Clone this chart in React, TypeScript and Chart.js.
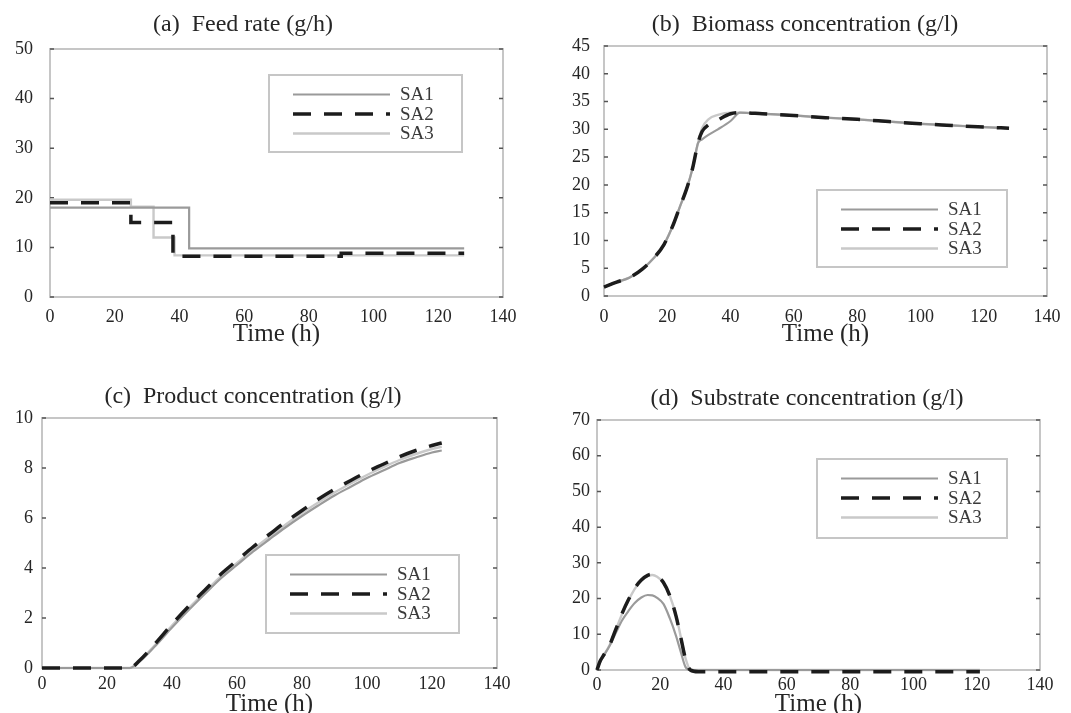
import React, { useEffect, useRef } from 'react';
import { Chart, registerables } from 'chart.js';

Chart.register(...registerables);

// ---------- data ----------
const seriesNames = ['SA1', 'SA2', 'SA3'];

// (a) Feed rate (g/h)
const feedTimeSA1 = [0, 43, 43, 128];
const feedSA1 = [18, 18, 9.8, 9.8];
const feedTimeSA2 = [0, 25, 25, 38, 38, 90, 90, 128];
const feedSA2 = [19, 19, 15, 15, 8.2, 8.2, 8.8, 8.8];
const feedTimeSA3 = [0, 25, 25, 32, 32, 38.5, 38.5, 128];
const feedSA3 = [19.6, 19.6, 18.2, 18.2, 12, 12, 8.4, 8.4];

// (b) Biomass concentration (g/l)
const biomassTime = [0, 4, 8, 12, 16, 19, 22, 24, 26, 28, 29.7, 31, 33, 36, 40, 43, 50, 60, 70, 80, 90, 100, 110, 120, 128];
const biomassSA1 = [1.6, 2.5, 3.3, 4.8, 7.0, 9.3, 13.0, 16.1, 19.1, 23.0, 27.5, 28.2, 29.0, 30.0, 31.5, 33.0, 32.8, 32.5, 32.1, 31.8, 31.4, 31.0, 30.7, 30.4, 30.2];
const biomassSA2 = [1.6, 2.5, 3.3, 4.8, 7.0, 9.3, 13.0, 16.1, 19.1, 23.0, 27.5, 29.6, 30.8, 31.7, 32.8, 33.0, 32.8, 32.5, 32.1, 31.8, 31.4, 31.0, 30.7, 30.4, 30.2];
const biomassSA3 = [1.6, 2.5, 3.3, 4.8, 7.0, 9.3, 13.0, 16.1, 19.1, 23.0, 27.5, 30.2, 31.8, 32.6, 33.0, 33.0, 32.8, 32.5, 32.1, 31.8, 31.4, 31.0, 30.7, 30.4, 30.2];

// (c) Product concentration (g/l)
const productTime = [0, 10, 20, 27, 30, 35, 40, 45, 50, 55, 60, 65, 70, 75, 80, 85, 90, 95, 100, 105, 110, 115, 120, 123];
const productSA1 = [0, 0, 0, 0, 0.25, 0.9, 1.62, 2.3, 2.95, 3.58, 4.12, 4.66, 5.15, 5.63, 6.08, 6.5, 6.9, 7.25, 7.6, 7.9, 8.2, 8.42, 8.62, 8.7];
const productSA2 = [0, 0, 0, 0, 0.3, 1.0, 1.75, 2.45, 3.1, 3.75, 4.3, 4.85, 5.35, 5.85, 6.3, 6.75, 7.15, 7.5, 7.85, 8.15, 8.45, 8.7, 8.9, 9.0];
const productSA3 = [0, 0, 0, 0, 0.28, 0.95, 1.7, 2.38, 3.02, 3.66, 4.2, 4.75, 5.25, 5.74, 6.2, 6.62, 7.02, 7.38, 7.72, 8.03, 8.32, 8.56, 8.76, 8.85];

// (d) Substrate concentration (g/l)
const substrateTime = [0, 1, 2, 4, 6, 8, 10, 12, 14, 16, 17.5, 19, 21, 23, 25, 26.5, 28, 29.5, 32, 50, 70, 90, 110, 121];
const substrateSA1 = [0, 2.3, 3.8, 6.8, 10.5, 14, 16.6, 18.8, 20.3, 21, 20.9, 20.2, 18.5, 14.5, 9.5, 5, 0.8, 0, 0, 0, 0, 0, 0, 0];
const substrateSA2 = [0, 2.5, 4, 7, 11.5, 16, 19.8, 23, 25.2, 26.5, 26.8, 26.2, 24.5, 20.8, 15, 9, 3, 0, -0.5, -0.5, -0.5, -0.5, -0.5, -0.5];
const substrateSA3 = [0, 2.5, 4, 7, 11.4, 15.8, 19.6, 22.8, 25, 26.3, 26.6, 26.1, 24.4, 20.8, 15.2, 9.2, 3.2, 0.2, 0, 0, 0, 0, 0, 0];

// ---------- styles ----------
const FONT = '"Liberation Serif", "Times New Roman", serif';
const TEXT = '#262626';
const seriesStyle = [
  { borderColor: '#9a9a9a', borderWidth: 2.2, borderDash: [] as number[], order: 1 },
  { borderColor: '#1c1c1c', borderWidth: 3.5, borderDash: [18, 13], order: 0 },
  { borderColor: '#c9c9c9', borderWidth: 2.4, borderDash: [] as number[], order: 2 },
];

const pts = (xs: number[], ys: number[]) => xs.map((x, i) => ({ x, y: ys[i] }));

const panelDecor = {
  id: 'panelDecor',
  beforeDatasetsDraw(chart: any, _a: any, opts: any) {
    if (!opts || !opts.title) return;
    const { ctx, chartArea } = chart;
    const { left, right, top, bottom } = chartArea;
    ctx.save();
    ctx.strokeStyle = '#c6c6c6';
    ctx.lineWidth = 2;
    ctx.setLineDash([]);
    ctx.strokeRect(left, top, right - left, bottom - top);
    ctx.strokeStyle = '#555';
    ctx.lineWidth = 1.5;
    const ys = chart.scales.y;
    ys.ticks.forEach((t: any) => {
      const y = ys.getPixelForValue(t.value);
      ctx.beginPath();
      ctx.moveTo(left, y);
      ctx.lineTo(left + 4, y);
      ctx.moveTo(right - 4, y);
      ctx.lineTo(right, y);
      ctx.stroke();
    });
    ctx.restore();
  },
  afterDatasetsDraw(chart: any, _a: any, opts: any) {
    if (!opts || !opts.legend) return;
    const { ctx, chartArea } = chart;
    const lg = opts.legend;
    const x0 = chartArea.left + lg.dx;
    const y0 = chartArea.top + lg.dy;
    ctx.save();
    ctx.fillStyle = '#fff';
    ctx.fillRect(x0, y0, lg.w, lg.h);
    ctx.strokeStyle = '#c6c6c6';
    ctx.lineWidth = 2;
    ctx.setLineDash([]);
    ctx.strokeRect(x0, y0, lg.w, lg.h);
    chart.data.datasets.forEach((ds: any, i: number) => {
      const y = y0 + 19.5 + i * 19.5;
      ctx.strokeStyle = ds.borderColor;
      ctx.lineWidth = ds.borderWidth;
      ctx.setLineDash(ds.borderDash || []);
      ctx.beginPath();
      ctx.moveTo(x0 + 24, y);
      ctx.lineTo(x0 + 121, y);
      ctx.stroke();
      ctx.setLineDash([]);
      ctx.fillStyle = '#3a3a3a';
      ctx.font = `19px ${FONT}`;
      ctx.textAlign = 'left';
      ctx.textBaseline = 'middle';
      ctx.fillText(ds.label, x0 + 131, y + 1);
    });
    ctx.restore();
  },
  afterDraw(chart: any, _a: any, opts: any) {
    if (!opts || !opts.title) return;
    const { ctx } = chart;
    ctx.save();
    ctx.fillStyle = TEXT;
    ctx.font = `24px ${FONT}`;
    ctx.textAlign = 'center';
    ctx.textBaseline = 'alphabetic';
    ctx.fillText(opts.title, opts.titleX, opts.titleY);
    ctx.restore();
  },
};
Chart.register(panelDecor as any);

type PanelDef = {
  left: number; top: number; width: number; height: number;
  yWidth: number; padRight: number; padTop: number; xHeight: number;
  yMax: number; yStep: number; yPad: number; xPad: number; xTitlePad: number;
  title: string; titleX: number; titleY: number;
  legend: { dx: number; dy: number; w: number; h: number };
  series: { xs: number[]; ys: number[] }[];
  smooth: boolean;
};

function buildConfig(p: PanelDef): any {
  return {
    type: 'line',
    data: {
      datasets: p.series.map((s, i) => ({
        label: seriesNames[i],
        data: pts(s.xs, s.ys),
        borderColor: seriesStyle[i].borderColor,
        borderWidth: seriesStyle[i].borderWidth,
        borderDash: seriesStyle[i].borderDash,
        order: seriesStyle[i].order,
        pointRadius: 0,
        fill: false,
        clip: false,
        tension: 0,
        cubicInterpolationMode: p.smooth ? 'monotone' : 'default',
        borderCapStyle: 'butt',
        borderJoinStyle: 'miter',
      })),
    },
    options: {
      animation: false,
      responsive: false,
      devicePixelRatio: 1,
      events: [],
      layout: { padding: { left: 0, right: p.padRight, top: p.padTop, bottom: 0 } },
      plugins: {
        legend: { display: false },
        tooltip: { enabled: false },
        title: { display: false },
        panelDecor: { title: p.title, titleX: p.titleX, titleY: p.titleY, legend: p.legend },
      },
      scales: {
        x: {
          type: 'linear',
          min: 0,
          max: 140,
          grid: { display: false, drawTicks: false },
          border: { display: false },
          ticks: { stepSize: 20, autoSkip: false, maxRotation: 0, padding: p.xPad, color: TEXT, font: { family: FONT, size: 18 } },
          title: { display: true, text: 'Time (h)', color: TEXT, font: { family: FONT, size: 25 }, padding: { top: 0, bottom: p.xTitlePad } },
          afterFit: (s: any) => { s.height = p.xHeight; },
        },
        y: {
          type: 'linear',
          min: 0,
          max: p.yMax,
          grid: { display: false, drawTicks: false },
          border: { display: false },
          ticks: { stepSize: p.yStep, autoSkip: false, padding: p.yPad, color: TEXT, font: { family: FONT, size: 18 } },
          afterFit: (s: any) => { s.width = p.yWidth; },
        },
      },
    },
  };
}

const panels: PanelDef[] = [
  {
    left: 0, top: 0, width: 530, height: 356,
    yWidth: 50, padRight: 27, padTop: 49, xHeight: 59,
    yMax: 50, yStep: 10, yPad: 17, xPad: 9, xTitlePad: 7,
    title: '(a)  Feed rate (g/h)', titleX: 243, titleY: 31,
    legend: { dx: 219, dy: 26, w: 193, h: 77 },
    series: [
      { xs: feedTimeSA1, ys: feedSA1 },
      { xs: feedTimeSA2, ys: feedSA2 },
      { xs: feedTimeSA3, ys: feedSA3 },
    ],
    smooth: false,
  },
  {
    left: 530, top: 0, width: 541, height: 356,
    yWidth: 74, padRight: 24, padTop: 46, xHeight: 60,
    yMax: 45, yStep: 5, yPad: 14, xPad: 10, xTitlePad: 7,
    title: '(b)  Biomass concentration (g/l)', titleX: 275, titleY: 31,
    legend: { dx: 213, dy: 144, w: 190, h: 77 },
    series: [
      { xs: biomassTime, ys: biomassSA1 },
      { xs: biomassTime, ys: biomassSA2 },
      { xs: biomassTime, ys: biomassSA3 },
    ],
    smooth: true,
  },
  {
    left: 0, top: 360, width: 530, height: 370,
    yWidth: 42, padRight: 33, padTop: 58, xHeight: 62,
    yMax: 10, yStep: 2, yPad: 9, xPad: 5, xTitlePad: 11,
    title: '(c)  Product concentration (g/l)', titleX: 253, titleY: 43,
    legend: { dx: 224, dy: 137, w: 193, h: 78 },
    series: [
      { xs: productTime, ys: productSA1 },
      { xs: productTime, ys: productSA2 },
      { xs: productTime, ys: productSA3 },
    ],
    smooth: true,
  },
  {
    left: 530, top: 360, width: 541, height: 370,
    yWidth: 67, padRight: 31, padTop: 60, xHeight: 60,
    yMax: 70, yStep: 10, yPad: 7, xPad: 4, xTitlePad: 11,
    title: '(d)  Substrate concentration (g/l)', titleX: 277, titleY: 45,
    legend: { dx: 220, dy: 39, w: 190, h: 79 },
    series: [
      { xs: substrateTime, ys: substrateSA1 },
      { xs: substrateTime, ys: substrateSA2 },
      { xs: substrateTime, ys: substrateSA3 },
    ],
    smooth: true,
  },
];

function Panel({ def }: { def: PanelDef }) {
  const ref = useRef<HTMLCanvasElement>(null);
  useEffect(() => {
    const chart = new Chart(ref.current as HTMLCanvasElement, buildConfig(def));
    return () => chart.destroy();
  }, [def]);
  return (
    <div style={{ position: 'absolute', left: def.left, top: def.top, width: def.width, height: def.height }}>
      <canvas ref={ref} width={def.width} height={def.height} style={{ width: def.width, height: def.height, display: 'block' }} />
    </div>
  );
}

export default function App() {
  useEffect(() => {
    document.body.style.margin = '0';
    document.body.style.overflow = 'hidden';
  }, []);
  return (
    <div style={{ position: 'fixed', left: 0, top: 0, width: 1071, height: 713, overflow: 'hidden', background: '#fff' }}>
      {panels.map((p, i) => (
        <Panel key={i} def={p} />
      ))}
    </div>
  );
}
